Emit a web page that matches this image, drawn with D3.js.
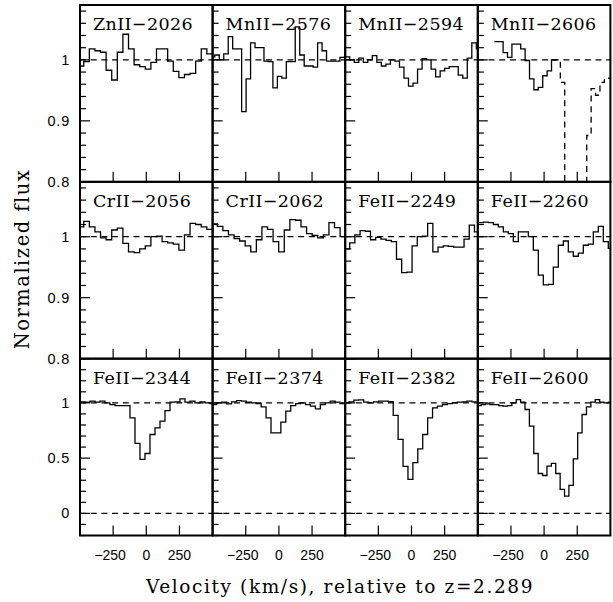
<!DOCTYPE html>
<html><head><meta charset="utf-8">
<script src="https://cdn.jsdelivr.net/npm/d3@7/dist/d3.min.js"></script>
<style>body{margin:0;background:#fff}svg{display:block}</style>
</head><body>
<svg id="chart" width="613" height="602"></svg>
<script>
// ---------------- data ----------------
const lineNames = ["ZnII−2026","MnII−2576","MnII−2594","MnII−2606",
                   "CrII−2056","CrII−2062","FeII−2249","FeII−2260",
                   "FeII−2344","FeII−2374","FeII−2382","FeII−2600"];
// velocity of the left edge of the first pixel (km/s) and pixel width (km/s)
const binStart = [-514,-517,-500,-375.6,-514,-506.8,-505.3,-496,-500,-506,-509,-508];
const binWidth = [42.2,33.7,34.1,33.2,42.2,42.1,39.2,37.7,37.7,37.2,37.1,33.1];

const fluxZn2026 = [0.99,0.997,1.018,1.015,1.0125,0.983,0.967,1.0125,1.042,1.018,0.992,0.989,0.985,0.996,1.018,1.018,0.998,0.981,0.971,0.976,0.978,0.998,1.018,1.01];
const fluxMn2576 = [1.005,1.008,1.0,1.01,1.038,1.018,1.018,0.915,0.969,1.028,1.02,1.02,0.998,0.997,0.954,0.973,0.97,0.997,0.997,1.054,1.008,0.99,0.99,0.988,1.028,1.015,0.998,0.998,0.998,1.004,1.005];
const fluxMn2594 = [1.005,1.0,0.996,1.003,0.996,1.0,1.007,0.996,0.99,0.993,1.0,0.998,0.988,0.97,0.957,0.962,0.985,1.002,1.0,0.985,0.972,0.982,0.986,0.989,0.989,0.975,0.97,1.003,1.028,1.018];
const fluxMn2606 = [1.03,1.03,1.012,1.004,1.026,1.026,1.018,0.999,0.969,0.951,0.955,0.974,0.982,1.0];
// blended region of MnII-2606 (drawn dashed), starting at pixel 13 of the same grid
const blendMn2606Offset = 13;
const blendMn2606 = [1.0,1.0,0.963,0.6,0.3,0.2,0.3,0.6,0.876,0.953,0.942,0.963,0.967,0.97];
const fluxCr2056 = [1.016,1.025,1.016,1.008,0.998,0.995,1.011,1.014,0.989,0.975,0.974,0.98,0.985,1.0,1.001,0.992,0.99,0.988,0.978,1.003,1.022,1.02,1.016,1.012];
const fluxCr2062 = [1.021,1.017,1.01,1.003,0.997,0.993,0.985,0.975,0.995,1.016,1.012,0.992,0.975,1.011,1.028,1.027,1.016,1.005,1.002,0.998,1.003,1.023,1.015,1.0];
const fluxFe2249 = [0.98,0.99,1.003,1.01,1.009,0.995,0.999,0.996,0.994,0.992,0.963,0.941,0.942,0.985,1.0,1.001,1.022,0.975,0.983,0.985,0.984,0.983,0.983,0.996,1.019,1.008];
const fluxFe2260 = [1.023,1.024,1.023,1.02,1.016,1.008,1.005,0.992,1.008,1.008,1.0,0.978,0.937,0.921,0.922,0.95,0.986,0.993,0.975,0.968,0.973,0.986,0.988,1.008,1.017,0.992,0.981];
const fluxFe2344 = [1.009,1.006,1.015,1.006,1.015,1.0,0.985,0.976,0.976,0.976,0.864,0.633,0.488,0.542,0.714,0.774,0.834,0.93,1.006,1.009,1.036,1.006,1.015,1.0,1.009,1.0,0.994];
const fluxFe2374 = [0.985,1.0,1.006,0.991,1.009,1.02,1.015,1.006,1.0,0.994,0.964,0.864,0.729,0.729,0.825,0.925,0.976,0.994,1.0,0.985,0.97,0.946,0.985,1.0,1.015,1.006,0.994];
const fluxFe2382 = [1.0,1.009,1.024,1.027,1.006,1.0,1.009,1.015,1.015,1.012,0.886,0.669,0.425,0.307,0.46,0.584,0.714,0.864,0.955,0.97,0.985,0.994,1.0,1.006,1.009,1.015,1.009];
const fluxFe2600 = [0.976,0.985,0.991,0.985,0.985,0.976,0.97,0.976,1.0,1.03,1.006,0.94,0.789,0.542,0.361,0.343,0.428,0.452,0.361,0.217,0.157,0.253,0.494,0.729,0.895,0.964,1.006,1.03,1.006,1.0,1.006];

const panelFlux = [fluxZn2026,fluxMn2576,fluxMn2594,fluxMn2606,
                   fluxCr2056,fluxCr2062,fluxFe2249,fluxFe2260,
                   fluxFe2344,fluxFe2374,fluxFe2382,fluxFe2600];

const rowDomain = [[0.8,1.09],[0.8,1.09],[-0.2,1.4]];
const rowMajorTicks = [[0.8,0.9,1],[0.8,0.9,1],[0,0.5,1]];
const rowMajorLabels = [["0.8","0.9","1"],["0.8","0.9","1"],["0","0.5","1"]];
const rowMinorStep = [0.02,0.02,0.1];
const rowRefLines = [[1],[1],[0,1]];
const velDomain = [-500,500];
const velTicks = [-250,0,250];
const velTickLabels = ["−250","0","250"];

// ---------------- layout ----------------
const svg = d3.select("#chart");
const plotL = 80, plotR = 610.4, plotT = 5, plotB = 535.5;
const nCol = 4, nRow = 3;
const pw = (plotR-plotL)/nCol, ph = (plotB-plotT)/nRow;
const serif = "'DejaVu Serif', serif";
const sans = "'Liberation Sans', Arial, sans-serif";

const defs = svg.append("defs");

for (let p = 0; p < 12; p++) {
  const r = Math.floor(p/nCol), c = p % nCol;
  const x0 = plotL + c*pw, y0 = plotT + r*ph;
  const x = d3.scaleLinear().domain(velDomain).range([x0, x0+pw]);
  const y = d3.scaleLinear().domain(rowDomain[r]).range([y0+ph, y0]);
  const g = svg.append("g");

  defs.append("clipPath").attr("id","clip"+p)
    .append("rect").attr("x",x0).attr("y",y0).attr("width",pw).attr("height",ph);

  // reference dashed lines
  rowRefLines[r].forEach(v => {
    g.append("line").attr("x1",x0).attr("x2",x0+pw).attr("y1",y(v)).attr("y2",y(v))
      .attr("stroke","#000").attr("stroke-width",1.3).attr("stroke-dasharray","6,4.7");
  });

  // spectrum histogram
  const line = d3.line().x(d=>x(d[0])).y(d=>y(d[1])).curve(d3.curveStepAfter);
  const f = panelFlux[p];
  const pts = f.map((v,i)=>[binStart[p]+i*binWidth[p], v]);
  pts.push([binStart[p]+f.length*binWidth[p], f[f.length-1]]);
  g.append("path").attr("d", line(pts)).attr("fill","none").attr("stroke","#000")
    .attr("stroke-width",1.3).attr("clip-path","url(#clip"+p+")");

  if (p === 3) {
    const bp = blendMn2606.map((v,i)=>[binStart[p]+(blendMn2606Offset+i)*binWidth[p], v]);
    bp.push([binStart[p]+(blendMn2606Offset+blendMn2606.length)*binWidth[p], blendMn2606[blendMn2606.length-1]]);
    g.append("path").attr("d", line(bp)).attr("fill","none").attr("stroke","#000")
      .attr("stroke-width",1.3).attr("stroke-dasharray","6,4.7").attr("clip-path","url(#clip"+p+")");
  }

  // y ticks (left, inward)
  const dom = rowDomain[r];
  const step = rowMinorStep[r];
  const nMinor = Math.floor((dom[1]-dom[0])/step + 1e-6);
  for (let k = 0; k <= nMinor; k++) {
    const v = +(dom[0] + k*step).toFixed(4);
    const isMajor = rowMajorTicks[r].some(m => Math.abs(m-v) < 1e-6);
    g.append("line").attr("x1",x0).attr("x2",x0+(isMajor?10:6)).attr("y1",y(v)).attr("y2",y(v))
      .attr("stroke","#000").attr("stroke-width",1.2);
  }
  // x ticks (bottom, inward)
  velTicks.forEach(v => {
    g.append("line").attr("x1",x(v)).attr("x2",x(v)).attr("y1",y0+ph).attr("y2",y0+ph-10)
      .attr("stroke","#000").attr("stroke-width",1.2);
  });

  // y tick labels on first column
  if (c === 0) {
    rowMajorTicks[r].forEach((v,i) => {
      svg.append("text").attr("x",70).attr("y",y(v)+5).attr("text-anchor","end")
        .attr("font-family",sans).attr("font-size",14.5).attr("letter-spacing",0.8)
        .text(rowMajorLabels[r][i]);
    });
  }
  // x tick labels on bottom row
  if (r === nRow-1) {
    velTicks.forEach((v,i) => {
      svg.append("text").attr("x",x(v) - (v<0?3:0)).attr("y",560).attr("text-anchor","middle")
        .attr("font-family",sans).attr("font-size",14)
        .text(velTickLabels[i]);
    });
  }

  // panel title
  svg.append("text").attr("x",x0+13).attr("y",y0+25)
    .attr("font-family",serif).attr("font-size",17.5).attr("letter-spacing",0.4)
    .text(lineNames[p]);

  // frame
  g.append("rect").attr("x",x0).attr("y",y0).attr("width",pw).attr("height",ph)
    .attr("fill","none").attr("stroke","#000").attr("stroke-width",2);
}

// axis titles
svg.append("text").attr("transform","translate(29,259) rotate(-90)")
  .attr("text-anchor","middle").attr("font-family",serif).attr("font-size",19.5)
  .attr("letter-spacing",1.5)
  .text("Normalized flux");
svg.append("text").attr("x",340).attr("y",593).attr("text-anchor","middle")
  .attr("font-family",serif).attr("font-size",18.5).attr("letter-spacing",1.6)
  .text("Velocity (km/s), relative to z=2.289");
</script>
</body></html>
